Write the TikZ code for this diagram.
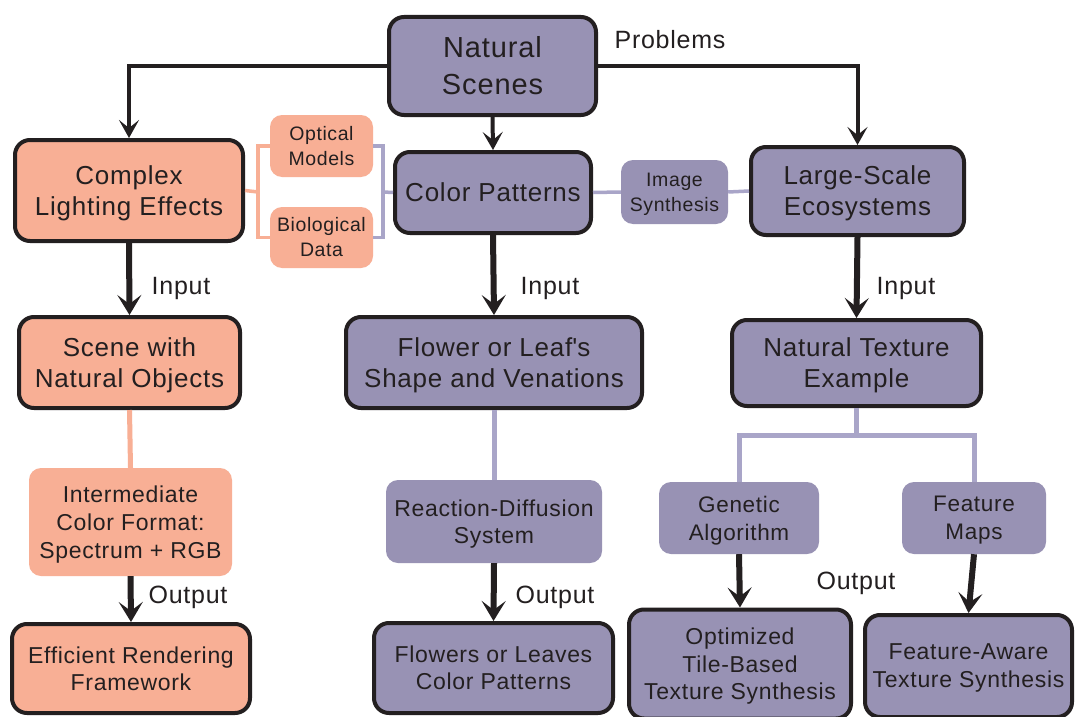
\documentclass[tikz,border=0pt]{standalone}
\usepackage{fontspec}
\setmainfont[LetterSpace=3]{Liberation Sans}
\usetikzlibrary{arrows.meta}
\definecolor{salm}{HTML}{F8AF95}
\definecolor{purp}{HTML}{9892B4}
\definecolor{purpl}{HTML}{A9A5C8}
\definecolor{txt}{HTML}{231F20}
\newcommand{\myfs}[2]{\fontsize{#1}{#2}\selectfont}
\begin{document}
\begin{tikzpicture}[x=1pt,y=-1pt,
  box/.style={rounded corners=15pt, align=center, text=txt, inner sep=0pt, text depth=0pt},
  bigS/.style={box, fill=salm, draw=txt, line width=4pt, font=\myfs{26}{31}},
  bigP/.style={box, fill=purp, draw=txt, line width=4pt, font=\myfs{26}{31}},
  smS/.style={box, rounded corners=12pt, fill=salm, font=\myfs{19.5}{25}},
  smP/.style={box, rounded corners=12pt, fill=purp, font=\myfs{19.5}{25}},
  lbl/.style={text=txt, font=\myfs{25}{30}, inner sep=0pt},
  conn/.style={line width=4pt, draw=txt, -{Stealth[length=18pt,width=20pt,inset=8pt]}},
  arr/.style={line width=6pt, draw=txt, -{Stealth[length=20pt,width=24pt,inset=9pt]}},
  sline/.style={line width=3.5pt, draw=salm},
  pline/.style={line width=3.5pt, draw=purpl},
  sline2/.style={line width=5pt, draw=salm},
  pline2/.style={line width=5pt, draw=purpl}]
\useasboundingbox (0,0) rectangle (1076,717);
\fill[white] (0,0) rectangle (1076,717);

% top
\node[bigP, text depth=, font=\myfs{29}{37}, minimum width=207pt, minimum height=98pt] (ns) at (492.5,66) {Natural\\Scenes};
\node[lbl] (prob) at (670,40) {Problems};

% row 2
\node[bigS, minimum width=228pt, minimum height=101pt] (cle) at (129,190.5) {Complex\\Lighting Effects};
\node[smS, text depth=, minimum width=103pt, minimum height=62pt] (om) at (321.5,146) {Optical\\Models};
\node[smS, text depth=, minimum width=103pt, minimum height=61pt] (bd) at (321.5,237.5) {Biological\\Data};
\node[bigP, text depth=, minimum width=196pt, minimum height=81pt] (cp) at (493,192.5) {Color Patterns};
\node[smP, minimum width=107pt, minimum height=64pt] (is) at (674.5,192) {Image\\Synthesis};
\node[bigP, minimum width=213pt, minimum height=88pt] (lse) at (857.5,191) {Large-Scale\\Ecosystems};

% row 3
\node[bigS, minimum width=221pt, minimum height=91pt] (sno) at (129.5,362.5) {Scene with\\Natural Objects};
\node[bigP, minimum width=296pt, minimum height=91pt] (fls) at (494,362.5) {Flower or Leaf\textquotesingle s\\Shape and Venations};
\node[bigP, minimum width=249pt, minimum height=86pt] (nte) at (856.5,363) {Natural Texture\\Example};

% row 4
\node[smS, font=\myfs{23}{28}, minimum width=203pt, minimum height=108pt] (icf) at (130.5,522) {Intermediate\\Color Format:\\Spectrum + RGB};
\node[smP, font=\myfs{23}{27}, minimum width=216pt, minimum height=83pt] (rds) at (494,521.5) {Reaction-Diffusion\\System};
\node[smP, font=\myfs{22.5}{28}, minimum width=160pt, minimum height=72pt] (ga) at (739,518) {Genetic\\Algorithm};
\node[smP, font=\myfs{22.5}{28}, minimum width=144pt, minimum height=72pt] (fm) at (974,518) {Feature\\Maps};

% row 5
\node[bigS, font=\myfs{23}{27}, minimum width=238pt, minimum height=89pt] (erf) at (131,668.5) {Efficient Rendering\\Framework};
\node[bigP, font=\myfs{23}{27}, minimum width=239pt, minimum height=90pt] (flc) at (493.5,668) {Flowers or Leaves\\Color Patterns};
\node[bigP, font=\myfs{23}{27.5}, minimum width=222pt, minimum height=109pt] (otb) at (740,664) {Optimized\\Tile-Based\\Texture Synthesis};
\node[bigP, font=\myfs{23}{28}, minimum width=207pt, minimum height=102pt] (fat) at (968.5,666) {Feature-Aware\\Texture Synthesis};

% labels
\node[lbl] (in1) at (181,288) {Input};
\node[lbl] (in2) at (550,288) {Input};
\node[lbl] (in3) at (906,288) {Input};
\node[lbl] (out1) at (188,597) {Output};
\node[lbl] (out2) at (555,597) {Output};
\node[lbl] (out3) at (856,583) {Output};

% top connectors
\draw[conn] (ns.west) -| (cle.north);
\draw[conn] (ns.east) -| (lse.north);
\draw[conn] (ns.south) -- (cp.north);

% brackets
\coordinate (sb) at (258,192);
\draw[sline] (cle.east) -- (sb);
\draw[sline] (om.west) -| (sb) |- (bd.west);
\coordinate (pb) at (383,192);
\draw[pline] (om.east) -| (pb) |- (bd.east);
\draw[pline] (cp.west) -- (pb);
\draw[pline] (cp.east) -- (is.west);
\draw[pline] (is.east) -- (lse.west);

% vertical arrows
\draw[arr] (cle.south) -- (sno.north);
\draw[arr] (cp.south) -- (fls.north);
\draw[arr] (lse.south) -- (nte.north);
\draw[sline2] (sno.south) -- (icf.north);
\draw[pline2] (fls.south) -- (rds.north);
\draw[arr] (icf.south) -- (erf.north);
\draw[arr] (rds.south) -- (flc.north);

\coordinate (tb) at (856.5,435);
\draw[pline2] (nte.south) -- (tb);
\draw[pline2] (ga.north) |- (tb) -| (fm.north);
\draw[arr] (ga.south) -- (otb.north);
\draw[arr] (fm.south) -- (fat.north);
\end{tikzpicture}
\end{document}
